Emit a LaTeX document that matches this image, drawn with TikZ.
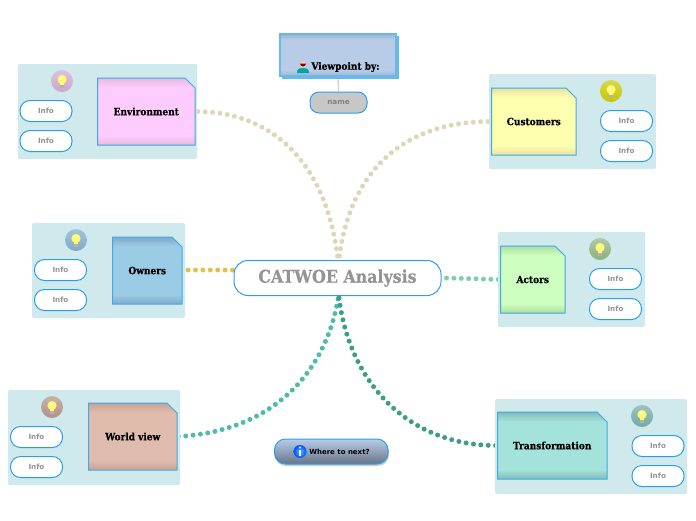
\documentclass[tikz,border=0pt]{standalone}
\usepackage{fontspec}
\usetikzlibrary{fit,backgrounds}
\setmainfont{DejaVu Sans}
\newfontfamily\slabfont[FakeStretch=0.9,BoldFeatures={FakeBold=0.6}]{DejaVu Serif}
\definecolor{panelc}{HTML}{CFE9EC}
\definecolor{bluec}{HTML}{2A9FE8}
\definecolor{notelinec}{HTML}{3FA9E6}
\definecolor{tanc}{HTML}{DFD6B8}
\definecolor{yelc}{HTML}{E0C050}
\definecolor{mintc}{HTML}{7FCFAE}
\definecolor{tealc}{HTML}{4FBBAB}
\definecolor{deepc}{HTML}{3D9E86}
\definecolor{pinkA}{HTML}{FFCCFF}\definecolor{pinkB}{HTML}{E3BBDD}
\definecolor{ownA}{HTML}{9BCCE6}\definecolor{ownB}{HTML}{7FA9C8}
\definecolor{worA}{HTML}{E0BCAE}\definecolor{worB}{HTML}{C4A294}
\definecolor{cusA}{HTML}{FFFFB0}\definecolor{cusB}{HTML}{E8E0A0}
\definecolor{actA}{HTML}{CCFFC0}\definecolor{actB}{HTML}{B0DDA0}
\definecolor{traA}{HTML}{A4E2DC}\definecolor{traB}{HTML}{80BCB5}
\definecolor{vpA}{HTML}{B8CCE8}\definecolor{vpB}{HTML}{A0B4D0}
\newcommand\mkshade[1]{\pgfdeclareverticalshading{sh#1}{100bp}{color(0bp)=(#1B); color(25bp)=(#1B); color(32bp)=(#1A); color(68bp)=(#1A); color(75bp)=(#1B); color(100bp)=(#1B)}}
\mkshade{pink}\mkshade{own}\mkshade{wor}\mkshade{cus}\mkshade{act}\mkshade{tra}\mkshade{vp}
\tikzset{
  x=1pt,y=-1pt,
  panel/.style={fill=panelc,rounded corners=2pt},
  notefill/.style={draw=notelinec,line width=1pt,line join=miter},
  notelabel/.style={inner sep=0pt,font=\slabfont\bfseries\fontsize{10}{12}\selectfont,text=black},
  pill/.style={draw=bluec,line width=1pt,fill=white,rounded corners=10pt,inner sep=0pt,minimum width=52pt,minimum height=21pt,font=\bfseries\fontsize{7.2}{8}\selectfont,text=black!42},
  link/.style={line width=5pt,line cap=round,dash pattern=on 0pt off 7.4pt},
}
\newcommand\notebox[7]{%
  \path[shade,shading=sh#6,notefill] (#2,#3) -- ({#4-10},#3) -- (#4,{#3+10}) -- (#4,#5) -- (#2,#5) -- cycle;
  \node[inner sep=0pt,fit={(#2,#3) (#4,#5)}] (#1) {};
  \node[notelabel] (#1t) at (#1.center) {#7};}
\newcommand\bulb[3]{%
  \path[shade,top color=#3!70!white,bottom color=#3] (#1,#2) circle[radius=11];
  \fill[black!30] ({#1-1.8},{#2+3}) rectangle ({#1+1.8},{#2+6.5});
  \fill[yellow!55!white] (#1,{#2-1.5}) circle[radius=4.6];
  \fill[yellow!55!white] ({#1-2},{#2+1}) rectangle ({#1+2},{#2+3.5});
  \fill[white,opacity=.7] ({#1-1},{#2-2.5}) circle[radius=1.4];}
\begin{document}
\begin{tikzpicture}
\useasboundingbox (0,0) rectangle (696,520);
% panels
\fill[panel] (18,64) rectangle (197,159);
\fill[panel] (489,74) rectangle (656,169);
\fill[panel] (32,223) rectangle (185,318);
\fill[panel] (498,232) rectangle (645,327);
\fill[panel] (8,390) rectangle (180,485);
\fill[panel] (495,399) rectangle (687,494);
% notes
\notebox{env}{97.5}{78}{195}{145}{pink}{Environment}
\notebox{cus}{491.5}{88}{576}{155}{cus}{Customers}
\notebox{own}{112.5}{237}{182}{304}{own}{Owners}
\notebox{act}{500.5}{246}{565}{313}{act}{Actors}
\notebox{wor}{88.5}{403}{177}{470}{wor}{World view}
\notebox{tra}{497.5}{412}{607}{479}{tra}{Transformation}
% bulbs
\bulb{62}{81}{pinkB!90!black}
\bulb{611}{91}{yellow!78!black}
\bulb{76}{240}{ownB}
\bulb{600}{249}{actB!80!black}
\bulb{52}{407}{worB!90!black}
\bulb{642}{416}{traB!90!black}
% info pills
\node[pill] (env1) at (46,111) {Info};
\node[pill] (env2) at (46,141) {Info};
\node[pill] (cus1) at (626.5,121) {Info};
\node[pill] (cus2) at (626.5,151) {Info};
\node[pill] (own1) at (60.5,270) {Info};
\node[pill] (own2) at (60.5,300) {Info};
\node[pill] (act1) at (615.5,279) {Info};
\node[pill] (act2) at (615.5,309) {Info};
\node[pill] (wor1) at (36.5,437) {Info};
\node[pill] (wor2) at (36.5,467) {Info};
\node[pill] (tra1) at (658,446) {Info};
\node[pill] (tra2) at (658,476) {Info};
% viewpoint
\path[shade,shading=shvp,draw=notelinec!80!white,line width=1.2pt] (283,37) rectangle (398,78);
\path[shade,shading=shvp,draw=notelinec!80!white,line width=1.2pt] (280,34) rectangle (396,76);
\node[inner sep=0pt,fit={(280,34) (396,76)}] (vp) {};
\node[notelabel] (vpt) at (345.5,67) {Viewpoint by:};
\fill[teal!70!cyan] (297,73) .. controls (297,68) and (300,68) .. (303,68) .. controls (306,68) and (309,68) .. (309,73) -- cycle;
\fill[orange!35!white] (303,64.5) circle[radius=3];
\fill[red!50!black] (300,63.5) arc[start angle=180,end angle=0,radius=3] -- cycle;
\node[pill,fill=black!22,rounded corners=9pt,minimum width=57pt,minimum height=21pt,text=black!50] (nam) at (338.5,102.5) {name};
% root
\fill[bluec] (264.5,260.5) arc[start angle=180,end angle=0,x radius=3.5,y radius=2.5] -- cycle;
\node[draw=bluec,line width=1pt,fill=white,rounded corners=14pt,inner sep=0pt,minimum width=207pt,minimum height=35pt,text=black!42,font=\slabfont\bfseries\fontsize{17.6}{22}\selectfont] (root) at (337.5,278) {CATWOE Analysis};
% where to next
\fill[black!45,opacity=.45,rounded corners=11pt] (275,441) rectangle (389,466);
\path[shade,top color=vpA,bottom color=black!35!vpB,draw=bluec,line width=1pt,rounded corners=11pt] (274.5,439) rectangle (388,464);
\node[inner sep=0pt,font=\bfseries\fontsize{7}{8}\selectfont,text=black] (next) at (339.5,451.5) {Where to next?};
\path[shade,inner color=blue!35!cyan!70!white,outer color=blue!70!cyan] (300,451.5) circle[radius=6.5];
\fill[white] (299.1,449.5) rectangle (300.9,456);
\fill[white] (300,447.5) circle[radius=1.1];
% connector anchors
\coordinate (rn) at (337.5,256);
\coordinate (rn2) at (339.5,256);
\coordinate (rs) at (338,299);
\coordinate (rs2) at (339,298);
\coordinate (re) at ([xshift=5pt]root.east);
\coordinate (rw) at ([xshift=-1pt,yshift=8pt]root.west);
\begin{scope}[on background layer]
\draw[tanc,link] (rn) .. controls (325,160) and (270,111) .. (env.east);
\draw[tanc,link] (rn2) .. controls (350,175) and (400,121) .. (cus.west);
\draw[yelc,link] (rw) -- (own.east |- rw);
\draw[mintc,link] (re) -- (act.west);
\draw[tealc,link] (rs) .. controls (325,375) and (270,432) .. (wor.east);
\draw[deepc,link] (rs2) .. controls (350,385) and (410,446) .. (tra.west);
\draw[tanc,line width=1.5pt] (vp.south) -- (nam.north);
\end{scope}
\end{tikzpicture}
\end{document}
